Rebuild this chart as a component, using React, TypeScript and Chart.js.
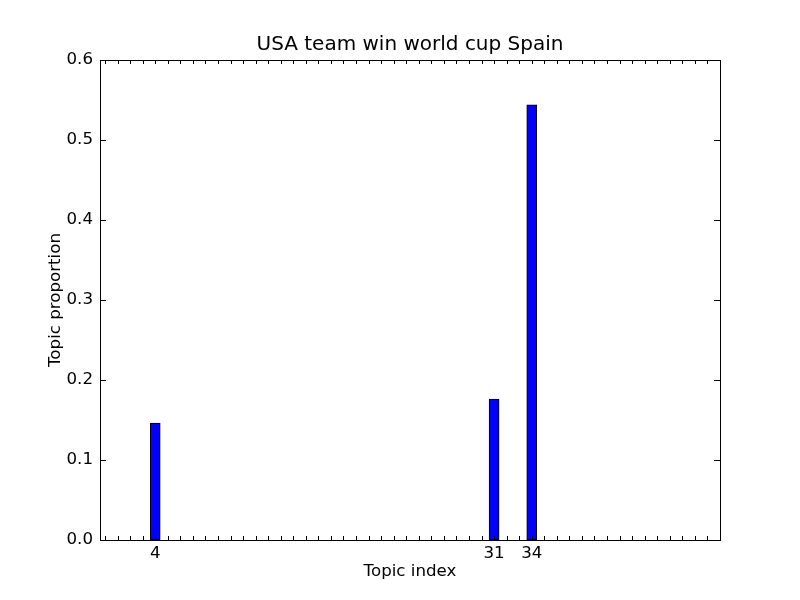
import React, { useEffect, useRef } from "react";
import { Chart, registerables } from "chart.js";

Chart.register(...registerables);

const TITLE = "USA team win world cup Spain";
const X_LABEL = "Topic index";
const Y_LABEL = "Topic proportion";
const topicIndex = [4, 31, 34];
const topicProportion = [0.146, 0.176, 0.544];
const xTickPositions = Array.from({ length: 49 }, (_, i) => i);
const xTickLabels = [4, 31, 34];
const yTicks = [0, 0.1, 0.2, 0.3, 0.4, 0.5, 0.6];

const FONT = "'DejaVu Sans', sans-serif";

export default function App() {
  const ref = useRef<HTMLCanvasElement | null>(null);
  useEffect(() => {
    document.body.style.margin = "0";
    const canvas = ref.current!;
    const decor = {
      id: "decor",
      afterDraw(chart: any) {
        const { ctx, chartArea: a, scales } = chart;
        const xs = scales.x;
        const ys = scales.y;
        ctx.save();
        ctx.strokeStyle = "#000";
        ctx.lineWidth = 1;
        ctx.beginPath();
        for (const t of xTickPositions) {
          const px = Math.round(xs.getPixelForValue(t)) + 0.5;
          ctx.moveTo(px, a.bottom);
          ctx.lineTo(px, a.bottom - 4);
          ctx.moveTo(px, a.top);
          ctx.lineTo(px, a.top + 4);
        }
        for (const t of yTicks) {
          const py = Math.round(ys.getPixelForValue(t)) + 0.5;
          ctx.moveTo(a.left, py);
          ctx.lineTo(a.left + 6, py);
          ctx.moveTo(a.right, py);
          ctx.lineTo(a.right - 6, py);
        }
        ctx.stroke();
        ctx.strokeRect(Math.round(a.left) + 0.5, Math.round(a.top) + 0.5, Math.round(a.right - a.left), Math.round(a.bottom - a.top));
        ctx.fillStyle = "#000";
        ctx.textAlign = "center";
        ctx.textBaseline = "alphabetic";
        ctx.font = `20px ${FONT}`;
        ctx.fillText(TITLE, (a.left + a.right) / 2, 50);
        ctx.font = `16.67px ${FONT}`;
        ctx.fillText(X_LABEL, (a.left + a.right) / 2, 576);
        ctx.translate(60, (a.top + a.bottom) / 2);
        ctx.rotate(-Math.PI / 2);
        ctx.fillText(Y_LABEL, 0, 0);
        ctx.restore();
      },
    };
    const chart = new Chart(canvas, {
      type: "bar",
      data: {
        datasets: [
          {
            data: topicIndex.map((x, i) => ({ x, y: topicProportion[i] })),
            backgroundColor: "#0000ff",
            borderColor: "#000000",
            borderWidth: 1,
            borderSkipped: false,
            barThickness: 10,
          } as any,
        ],
      },
      options: {
        responsive: false,
        animation: false,
        layout: { padding: { left: 0, top: 60, right: 80, bottom: 0 } },
        plugins: { legend: { display: false }, title: { display: false }, tooltip: { enabled: false } },
        scales: {
          x: {
            type: "linear",
            min: -0.4,
            max: 49,
            offset: false,
            grid: { display: false, drawTicks: false },
            border: { display: false },
            afterBuildTicks: (s: any) => {
              s.ticks = xTickPositions.map((v) => ({ value: v }));
            },
            afterFit: (s: any) => {
              s.height = 60;
            },
            ticks: {
              autoSkip: false,
              maxRotation: 0,
              padding: 4,
              color: "#000",
              font: { family: FONT, size: 16.67 },
              callback: (v: any) => (xTickLabels.includes(Number(v)) ? String(v) : ""),
            },
          },
          y: {
            min: 0,
            max: 0.6,
            grid: { display: false, drawTicks: false },
            border: { display: false },
            afterBuildTicks: (s: any) => {
              s.ticks = yTicks.map((v) => ({ value: v }));
            },
            afterFit: (s: any) => {
              s.width = 100;
            },
            ticks: {
              padding: 7,
              color: "#000",
              font: { family: FONT, size: 16.67 },
              callback: (v: any) => Number(v).toFixed(1),
            },
          },
        },
      },
      plugins: [decor],
    });
    return () => chart.destroy();
  }, []);
  return (
    <div style={{ width: 800, height: 600, background: "#fff" }}>
      <canvas ref={ref} width={800} height={600} />
    </div>
  );
}
